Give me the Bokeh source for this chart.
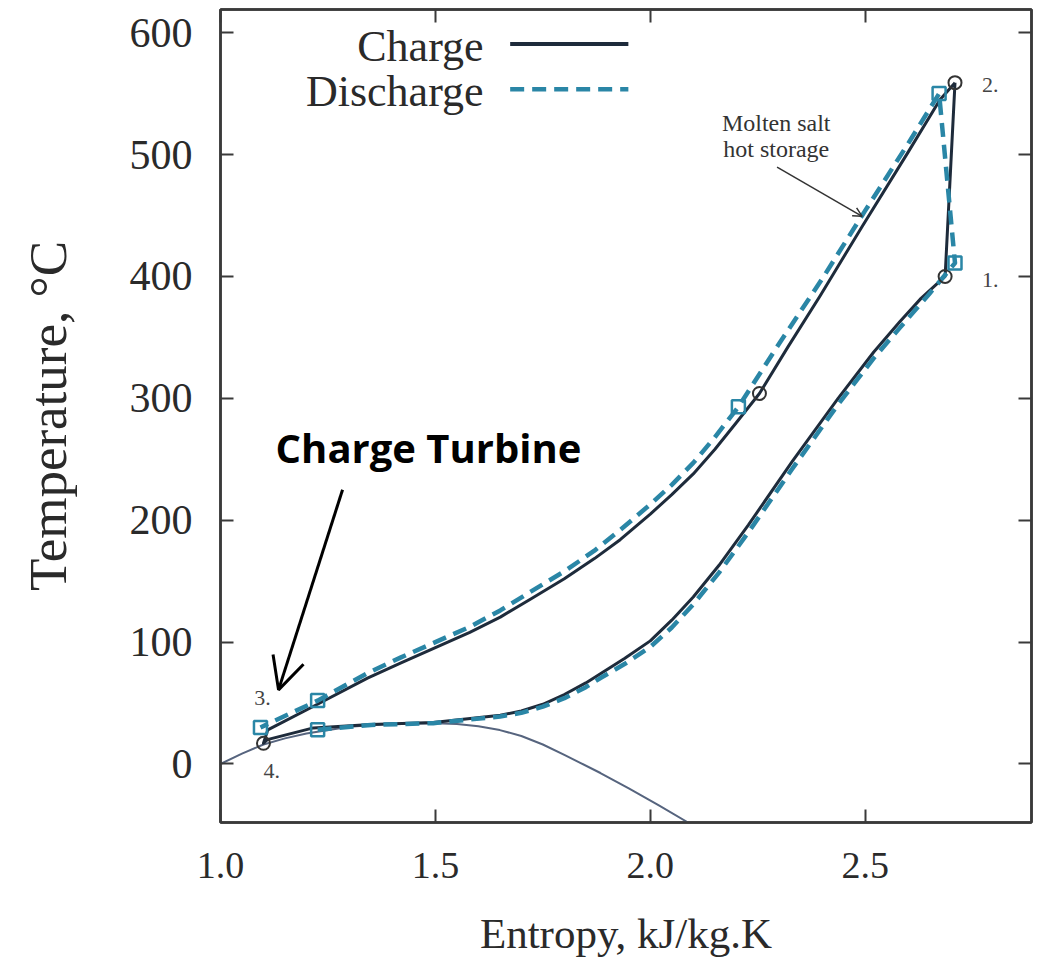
from bokeh.plotting import figure
from bokeh.models import LinearAxis, Range1d, Label, Arrow, OpenHead, FixedTicker, PrintfTickFormatter
from bokeh.embed import file_html
from bokeh.resources import INLINE

# ---- data ----
# Charge cycle (closed): 2 -> hot side -> 3 -> 4 -> cold side -> 1 -> 2
charge_s = [2.709, 2.674, 2.60, 2.493, 2.395, 2.32, 2.254, 2.20, 2.15, 2.10, 2.05, 2.00, 1.93, 1.87, 1.80,
            1.72, 1.651, 1.58, 1.50, 1.42, 1.342, 1.22, 1.11,
            1.10, 1.109, 1.216, 1.35, 1.495, 1.651, 1.70, 1.75, 1.80, 1.85, 1.884, 1.94, 2.00, 2.05,
            2.10, 2.16, 2.228, 2.33, 2.437, 2.52, 2.581, 2.63, 2.686, 2.709]
charge_T = [559, 545, 502, 441, 384, 342, 304, 280, 258, 238, 221, 205, 184, 168.5, 152,
            135, 120.5, 108, 95.5, 83, 70.5, 48, 28,
            17, 20, 29.6, 32.5, 34, 40, 43.5, 49, 57, 66.5, 74, 86.5, 101, 118,
            137, 163, 196, 248, 300, 338, 363, 382, 400, 559]

# Discharge cycle: cold side -> 1 -> 2 -> hot side -> 3
discharge_s = [1.226, 1.35, 1.495, 1.651, 1.70, 1.75, 1.80, 1.85, 1.884, 1.94, 2.00, 2.05, 2.10, 2.16,
               2.228, 2.33, 2.437, 2.52, 2.581, 2.65, 2.709,
               2.672, 2.60, 2.50, 2.40, 2.30, 2.205, 2.15, 2.10, 2.05, 2.00, 1.93, 1.87, 1.80, 1.72,
               1.651, 1.58, 1.50, 1.42, 1.342, 1.226, 1.093]
discharge_T = [28, 32, 33.5, 39, 42, 47, 54, 63, 70.5, 82, 96, 112, 131, 157,
               190, 242, 295, 333, 358, 386, 411,
               550, 509, 454, 398, 345, 293, 268, 247, 229, 213, 192, 175, 158, 141,
               126, 112.5, 100, 87.5, 74.6, 52, 30]

# Saturation dome
sat_s = [1.00, 1.05, 1.10, 1.15, 1.20, 1.30, 1.40, 1.50, 1.55, 1.60, 1.65, 1.70, 1.75, 1.80, 1.837,
         1.884, 1.95, 2.02, 2.088]
sat_T = [0, 8.5, 16, 21, 25, 30.5, 33, 33.5, 32.8, 31, 27.8, 23, 16, 7.5, 1,
         -7.4, -20, -34, -48]

# State markers
charge_pts_s = [2.709, 2.686, 2.254, 1.10]
charge_pts_T = [559, 400, 304, 17]
discharge_pts_s = [2.672, 2.709, 2.205, 1.226, 1.226, 1.093]
discharge_pts_T = [550, 411, 293, 52, 28, 30]

state_labels = ["1.", "2.", "3.", "4."]
state_s = [2.791, 2.791, 1.098, 1.119]
state_T = [397, 557, 54, -6]

x_ticks = [1.0, 1.5, 2.0, 2.5]
y_ticks = [0, 100, 200, 300, 400, 500, 600]

CHARGE = "#1e2b3b"
DISCH = "#2a86a6"
SAT = "#56647e"
AX = "#3a3a3a"
SERIF = "Liberation Serif"

p = figure(width=1034, height=959, x_range=Range1d(1.0, 2.887), y_range=Range1d(-48, 619),
           output_backend="svg", toolbar_location=None,
           min_border_left=220, min_border_top=9, min_border_right=3, min_border_bottom=136)
p.grid.visible = False
p.outline_line_color = AX
p.outline_line_width = 2.5
p.background_fill_color = "white"

# axes
for ax in (p.xaxis[0], p.yaxis[0]):
    ax.major_tick_in = 13
    ax.major_tick_out = 0
    ax.minor_tick_in = 0
    ax.minor_tick_out = 0
    ax.axis_line_color = AX
    ax.axis_line_width = 2.5
    ax.major_tick_line_color = AX
    ax.major_tick_line_width = 2
    ax.major_label_text_font = SERIF
    ax.major_label_text_color = "#2a2a2a"
    ax.axis_label_text_font = SERIF
    ax.axis_label_text_font_style = "normal"
    ax.axis_label_text_color = "#2a2a2a"

p.xaxis[0].ticker = FixedTicker(ticks=x_ticks)
p.xaxis[0].formatter = PrintfTickFormatter(format="%.1f")
p.yaxis[0].ticker = FixedTicker(ticks=y_ticks)
p.xaxis[0].major_label_text_font_size = "38px"
p.yaxis[0].major_label_text_font_size = "42px"
p.xaxis[0].major_label_standoff = 30
p.yaxis[0].major_label_standoff = 28
p.xaxis[0].axis_label = "Entropy, kJ/kg.K"
p.yaxis[0].axis_label = "Temperature, °C"
p.xaxis[0].axis_label_text_font_size = "43px"
p.yaxis[0].axis_label_text_font_size = "53px"
p.xaxis[0].axis_label_standoff = 29
p.yaxis[0].axis_label_standoff = 50

for loc, tick in (("above", x_ticks), ("right", y_ticks)):
    ax = LinearAxis(ticker=FixedTicker(ticks=tick), major_tick_in=13, major_tick_out=0,
                    minor_tick_in=0, minor_tick_out=0,
                    major_label_overrides={t: "" for t in tick},
                    major_label_standoff=0, axis_line_color=AX, axis_line_width=2.5,
                    major_tick_line_color=AX, major_tick_line_width=2)
    p.add_layout(ax, loc)

# curves
p.line(sat_s, sat_T, line_color=SAT, line_width=2, line_join="round")
p.line(charge_s, charge_T, line_color=CHARGE, line_width=3, line_join="round")
p.line(discharge_s, discharge_T, line_color=DISCH, line_width=4.5, line_dash="14 8",
       line_join="round")
p.scatter(charge_pts_s, charge_pts_T, marker="circle", size=13, fill_color=None,
          line_color="#333333", line_width=2)
p.scatter(discharge_pts_s, discharge_pts_T, marker="square", size=13, fill_color=None,
          line_color=DISCH, line_width=2.5)

# state labels
p.text(state_s, state_T, text=state_labels, text_font={"value": SERIF}, text_font_size="22px",
       text_color="#444444", text_align="center", text_baseline="middle")

# custom legend: text, then line sample
p.add_layout(Label(x=1.612, y=589, text="Charge", text_font=SERIF, text_font_size="44px",
                   text_color="#2a2a2a", text_align="right", text_baseline="middle"))
p.add_layout(Label(x=1.612, y=552, text="Discharge", text_font=SERIF, text_font_size="44px",
                   text_color="#2a2a2a", text_align="right", text_baseline="middle"))
p.add_layout(Arrow(end=None, x_start=1.674, y_start=590.6, x_end=1.949, y_end=590.6,
                   line_color=CHARGE, line_width=4))
p.add_layout(Arrow(end=None, x_start=1.674, y_start=553.6, x_end=1.949, y_end=553.6,
                   line_color=DISCH, line_width=4.5, line_dash="14 8"))

# annotations
p.add_layout(Label(x=2.293, y=526, text="Molten salt", text_font=SERIF, text_font_size="24px",
                   text_color="#333333", text_align="center", text_baseline="middle"))
p.add_layout(Label(x=2.293, y=504.5, text="hot storage", text_font=SERIF, text_font_size="24px",
                   text_color="#333333", text_align="center", text_baseline="middle"))
p.add_layout(Arrow(end=OpenHead(size=9, line_width=1.5, line_color="#333333"),
                   x_start=2.295, y_start=489.6, x_end=2.493, y_end=449.3,
                   line_color="#333333", line_width=1.5))

p.add_layout(Label(x=1.484, y=259.6, text="Charge Turbine", text_font="Open Sans",
                   text_font_style="bold", text_font_size="40px", text_color="black",
                   text_align="center", text_baseline="middle"))
p.add_layout(Arrow(end=OpenHead(size=32, line_width=3, line_color="black"),
                   x_start=1.284, y_start=225, x_end=1.135, y_end=60.8,
                   line_color="black", line_width=3))

open("out.html", "w").write(file_html(p, INLINE))
